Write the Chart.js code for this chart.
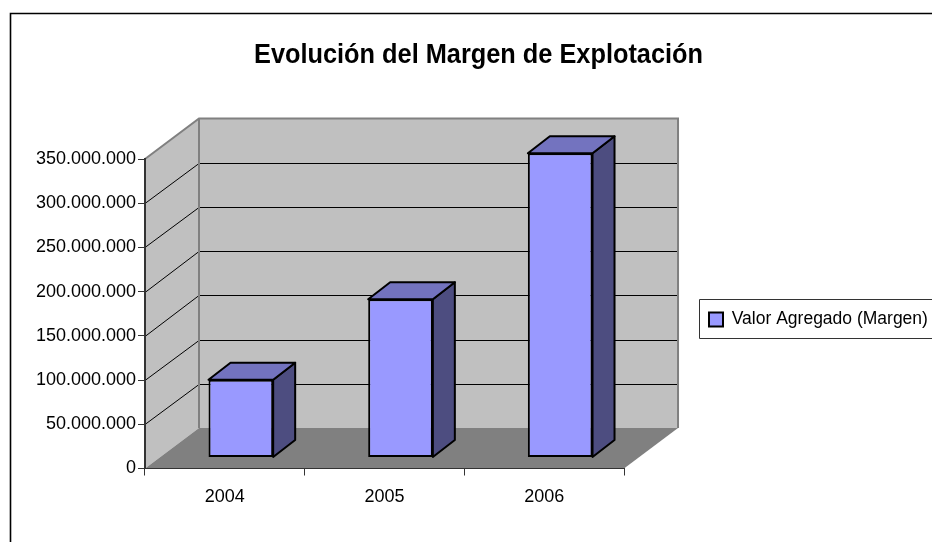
<!DOCTYPE html>
<html>
<head>
<meta charset="utf-8">
<style>html,body{margin:0;padding:0;background:#fff}canvas{display:block}</style>
<script src="https://cdn.jsdelivr.net/npm/chart.js@4"></script>
</head>
<body>
<canvas id="c" width="932" height="542"></canvas>
<script>
const categories = ['2004', '2005', '2006'];
const seriesName = 'Valor Agregado (Margen)';
const margen = [88000000, 179000000, 344000000];
const chartTitle = 'Evolución del Margen de Explotación';
const yMax = 350000000;
const yStep = 50000000;

const WALL_DX = 54, WALL_DY = 40.5;
const BAR_SHIFT_X = 16, BAR_SHIFT_Y = 11;
const BAR_DX = 22, BAR_DY = 17;
const FONT = '"Liberation Sans", Arial, sans-serif';

function poly(ctx, pts, fill, stroke, lw) {
  ctx.beginPath();
  pts.forEach((p, i) => i ? ctx.lineTo(p[0], p[1]) : ctx.moveTo(p[0], p[1]));
  ctx.closePath();
  if (fill) { ctx.fillStyle = fill; ctx.fill(); }
  if (stroke) { ctx.strokeStyle = stroke; ctx.lineWidth = lw; ctx.lineJoin = 'round'; ctx.stroke(); }
}
function line(ctx, pts, stroke, lw) {
  ctx.beginPath();
  pts.forEach((p, i) => i ? ctx.lineTo(p[0], p[1]) : ctx.moveTo(p[0], p[1]));
  ctx.strokeStyle = stroke; ctx.lineWidth = lw; ctx.stroke();
}

const scene3d = {
  id: 'scene3d',
  afterLayout(chart) {
    const lg = chart.legend, t = chart.titleBlock;
    lg.left = 700; lg.right = 932;
    lg.top = 299.5; lg.bottom = 339.5;
    t.left = 254; t.right = 703;
  },
  beforeDraw(chart) {
    const ctx = chart.ctx, a = chart.chartArea, y = chart.scales.y;
    const L = a.left, R = a.right, T = a.top, B = a.bottom, dx = WALL_DX, dy = WALL_DY;
    ctx.save();
    line(ctx, [[10.5, 542], [10.5, 13.5], [932, 13.5]], '#000', 1.6);
    line(ctx, [[932, 299.5], [699.5, 299.5], [699.5, 338.5], [932, 338.5]], '#333', 1);
    poly(ctx, [[L + dx, T - dy], [R + dx, T - dy], [R + dx, B - dy], [L + dx, B - dy]], '#C0C0C0');
    poly(ctx, [[L, T], [L + dx, T - dy], [L + dx, B - dy], [L, B]], '#C0C0C0');
    poly(ctx, [[L, B], [L + dx, B - dy], [R + dx, B - dy], [R, B]], '#808080');
    y.ticks.forEach(tk => {
      const py = y.getPixelForValue(tk.value);
      if (tk.value > 0 && tk.value < yMax) {
        const back = Math.round(py - dy) + 0.5;
        line(ctx, [[L, Math.round(py) + 0.5], [L + dx, back], [R + dx, back]], '#000', 1);
      }
    });
    line(ctx, [[L, T], [L + dx, T - dy], [R + dx, T - dy], [R + dx, B - dy]], '#808080', 2);
    line(ctx, [[L + dx, T - dy], [L + dx, B - dy]], '#808080', 2);
    ctx.restore();
  },
  beforeDatasetsDraw(chart) {
    const ctx = chart.ctx;
    ctx.save();
    ctx.translate(BAR_SHIFT_X, -BAR_SHIFT_Y);
    chart.getDatasetMeta(0).data.forEach(el => {
      const p = el.getProps(['x', 'y', 'base', 'width'], true);
      const l = p.x - p.width / 2, r = p.x + p.width / 2, t = p.y, b = p.base;
      poly(ctx, [[r, t], [r + BAR_DX, t - BAR_DY], [r + BAR_DX, b - BAR_DY], [r, b]], '#4D4D80', '#000', 2);
      poly(ctx, [[l, t], [l + BAR_DX, t - BAR_DY], [r + BAR_DX, t - BAR_DY], [r, t]], '#7373BF', '#000', 2);
    });
  },
  afterDatasetsDraw(chart) {
    chart.ctx.restore();
  }
};

new Chart(document.getElementById('c'), {
  type: 'bar',
  data: {
    labels: categories,
    datasets: [{
      label: seriesName,
      data: margen,
      backgroundColor: '#9999FF',
      borderColor: '#000',
      borderWidth: 2,
      borderSkipped: false,
      barPercentage: 0.405,
      categoryPercentage: 1
    }]
  },
  plugins: [scene3d],
  options: {
    responsive: false,
    animation: false,
    devicePixelRatio: 1,
    layout: { padding: { left: 10, right: 103.3, top: 0, bottom: 0 } },
    scales: {
      x: {
        grid: { drawOnChartArea: false, color: '#333', tickLength: 7 },
        border: { color: '#333', width: 1 },
        ticks: { color: '#000', font: { family: FONT, size: 18 }, padding: 11, maxRotation: 0 },
        afterFit(s) { s.height = 73.5; }
      },
      y: {
        min: 0, max: yMax,
        grid: { drawOnChartArea: false, color: '#333', tickLength: 7 },
        border: { color: '#333', width: 2 },
        ticks: {
          stepSize: yStep,
          color: '#000',
          font: { family: FONT, size: 18 },
          padding: 2,
          callback: v => String(v).replace(/\B(?=(\d{3})+(?!\d))/g, '.')
        },
        afterFit(s) { s.width = 135; }
      }
    },
    plugins: {
      tooltip: { enabled: false },
      title: {
        display: true,
        text: chartTitle,
        color: '#000',
        font: { family: FONT, size: 27, weight: 'bold' },
        padding: { top: 39, bottom: 87.6 }
      },
      legend: {
        display: true,
        position: 'right',
        labels: {
          color: '#000',
          font: { family: FONT, size: 17.5 },
          boxWidth: 14,
          boxHeight: 14,
          padding: 9
        }
      }
    }
  }
});
</script>
</body>
</html>
